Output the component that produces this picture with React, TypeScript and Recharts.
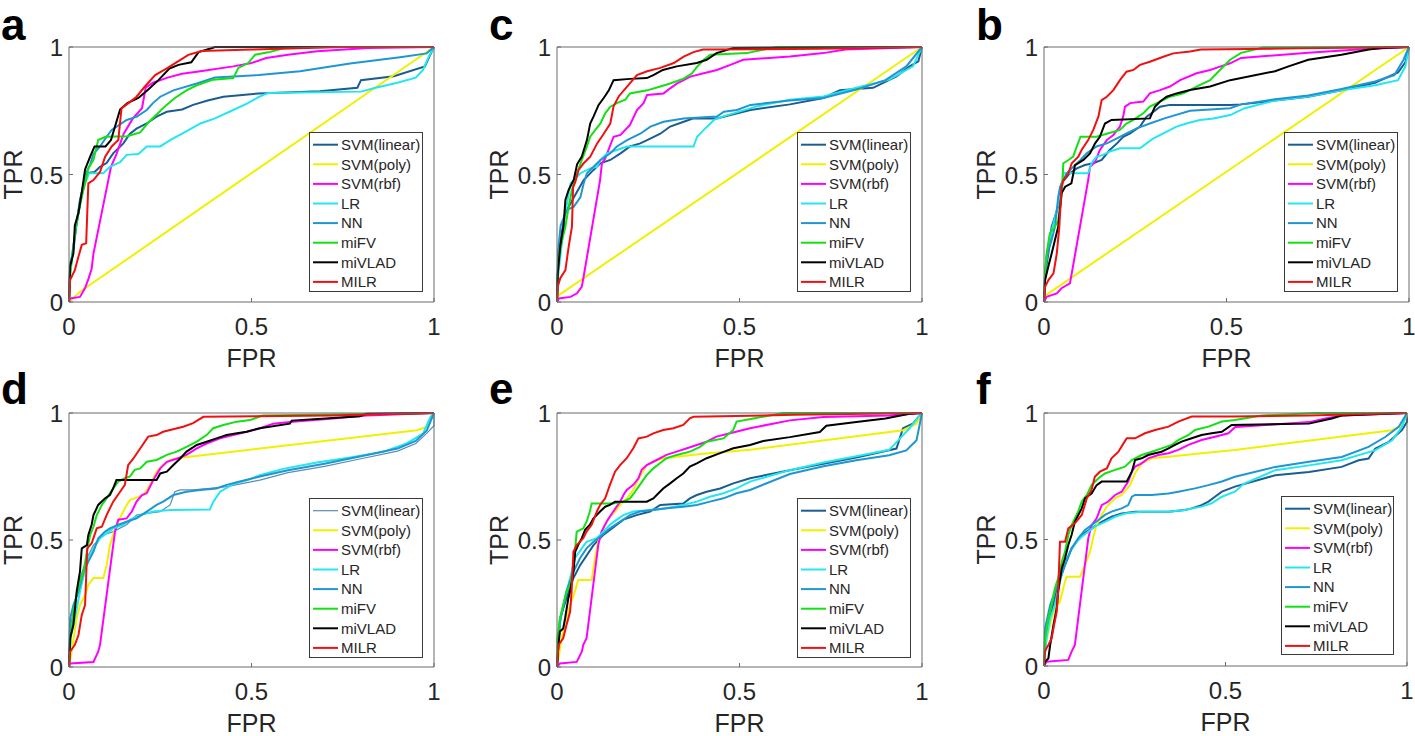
import React from "react";
import { LineChart, Line, XAxis, YAxis, Legend } from "recharts";

type Pt = [number, number];

const seriesNames = ["SVM(linear)", "SVM(poly)", "SVM(rbf)", "LR", "NN", "miFV", "miVLAD", "MILR"];
const seriesColors = ["#1b5d90", "#f0f000", "#ff00ff", "#22e6f0", "#1f96d2", "#14e014", "#000000", "#f01010"];
const axisTicks = [0, 0.5, 1];

// ---- panel a ----
const aLinear: Pt[] = [[0,0],[0.003,0.12],[0.015,0.25],[0.03,0.4],[0.048,0.505],[0.07,0.51],[0.085,0.53],[0.103,0.545],[0.121,0.583],[0.149,0.622],[0.167,0.66],[0.185,0.68],[0.213,0.7],[0.24,0.727],[0.268,0.746],[0.31,0.755],[0.34,0.773],[0.38,0.79],[0.423,0.805],[0.52,0.818],[0.687,0.826],[0.79,0.84],[0.8,0.87],[0.89,0.885],[0.975,0.924],[0.99,0.97],[1,1]];
const aPoly: Pt[] = [[0,0],[0.03,0.04],[1,1]];
const aRbf: Pt[] = [[0,0],[0.003,0.014],[0.03,0.02],[0.044,0.055],[0.053,0.09],[0.062,0.13],[0.067,0.19],[0.108,0.48],[0.115,0.53],[0.13,0.58],[0.15,0.66],[0.175,0.72],[0.2,0.76],[0.21,0.84],[0.23,0.86],[0.27,0.88],[0.31,0.895],[0.36,0.905],[0.45,0.924],[0.5,0.937],[0.54,0.957],[0.6,0.97],[0.68,0.983],[0.82,0.996],[1,1]];
const aLR: Pt[] = [[0,0],[0.003,0.1],[0.01,0.2],[0.02,0.3],[0.03,0.38],[0.04,0.45],[0.055,0.505],[0.094,0.505],[0.112,0.53],[0.14,0.548],[0.158,0.577],[0.19,0.58],[0.213,0.61],[0.25,0.61],[0.277,0.635],[0.31,0.66],[0.36,0.7],[0.4,0.72],[0.45,0.753],[0.49,0.78],[0.523,0.806],[0.545,0.82],[0.8,0.825],[0.84,0.84],[0.9,0.86],[0.95,0.88],[0.97,0.91],[0.985,0.96],[1,1]];
const aNN: Pt[] = [[0,0],[0.003,0.15],[0.012,0.2],[0.02,0.3],[0.035,0.43],[0.045,0.5],[0.058,0.54],[0.067,0.58],[0.085,0.61],[0.103,0.648],[0.117,0.675],[0.158,0.714],[0.186,0.727],[0.213,0.753],[0.23,0.78],[0.25,0.805],[0.286,0.83],[0.35,0.857],[0.4,0.88],[0.52,0.89],[0.633,0.905],[0.77,0.935],[0.907,0.96],[0.98,0.975],[1,1]];
const aFV: Pt[] = [[0,0],[0.003,0.112],[0.01,0.19],[0.019,0.295],[0.026,0.35],[0.035,0.413],[0.044,0.465],[0.053,0.524],[0.067,0.557],[0.08,0.635],[0.1,0.648],[0.16,0.65],[0.195,0.665],[0.215,0.7],[0.24,0.735],[0.265,0.77],[0.29,0.8],[0.322,0.83],[0.35,0.85],[0.395,0.872],[0.45,0.878],[0.464,0.918],[0.491,0.937],[0.51,0.97],[0.546,0.979],[0.6,1],[1,1]];
const aVLAD: Pt[] = [[0,0],[0.003,0.14],[0.012,0.19],[0.016,0.3],[0.026,0.35],[0.035,0.43],[0.044,0.52],[0.058,0.57],[0.07,0.61],[0.1,0.61],[0.115,0.635],[0.14,0.755],[0.16,0.78],[0.19,0.8],[0.215,0.83],[0.245,0.87],[0.275,0.915],[0.3,0.93],[0.335,0.94],[0.355,0.98],[0.39,0.995],[0.4,1],[1,1]];
const aMILR: Pt[] = [[0,0],[0.003,0.086],[0.016,0.125],[0.026,0.178],[0.035,0.224],[0.047,0.23],[0.053,0.465],[0.067,0.478],[0.085,0.51],[0.099,0.57],[0.117,0.61],[0.135,0.635],[0.144,0.76],[0.163,0.78],[0.185,0.805],[0.208,0.845],[0.236,0.89],[0.268,0.916],[0.29,0.936],[0.327,0.969],[0.363,0.984],[0.5,0.99],[0.75,1],[1,1]];

// ---- panel c ----
const cLinear: Pt[] = [[0,0],[0.003,0.15],[0.009,0.24],[0.023,0.35],[0.046,0.41],[0.073,0.478],[0.1,0.518],[0.119,0.544],[0.146,0.557],[0.174,0.583],[0.2,0.61],[0.228,0.622],[0.247,0.635],[0.283,0.66],[0.31,0.688],[0.347,0.707],[0.374,0.72],[0.438,0.72],[0.475,0.733],[0.53,0.753],[0.638,0.775],[0.73,0.8],[0.775,0.83],[0.866,0.84],[0.93,0.885],[0.966,0.924],[0.99,0.944],[1,1]];
const cPoly: Pt[] = [[0,0],[0.003,0.025],[1,1]];
const cRbf: Pt[] = [[0,0],[0.005,0.014],[0.037,0.02],[0.055,0.034],[0.068,0.06],[0.073,0.1],[0.118,0.478],[0.123,0.544],[0.132,0.563],[0.155,0.648],[0.174,0.655],[0.2,0.694],[0.219,0.753],[0.237,0.78],[0.247,0.812],[0.292,0.818],[0.31,0.838],[0.329,0.857],[0.347,0.87],[0.365,0.884],[0.402,0.897],[0.438,0.91],[0.475,0.93],[0.51,0.95],[0.638,0.963],[0.73,0.976],[0.79,0.99],[1,1]];
const cLR: Pt[] = [[0,0],[0.003,0.1],[0.009,0.178],[0.023,0.35],[0.037,0.465],[0.064,0.505],[0.091,0.524],[0.11,0.53],[0.119,0.557],[0.137,0.583],[0.164,0.596],[0.192,0.61],[0.374,0.61],[0.384,0.648],[0.402,0.675],[0.43,0.714],[0.456,0.728],[0.547,0.767],[0.638,0.793],[0.73,0.806],[0.82,0.84],[0.91,0.872],[0.975,0.924],[1,1]];
const cNN: Pt[] = [[0,0],[0.003,0.2],[0.01,0.3],[0.027,0.36],[0.046,0.374],[0.064,0.41],[0.073,0.465],[0.082,0.505],[0.119,0.557],[0.146,0.583],[0.164,0.61],[0.192,0.635],[0.228,0.66],[0.256,0.688],[0.292,0.707],[0.347,0.72],[0.438,0.727],[0.457,0.746],[0.493,0.753],[0.53,0.773],[0.638,0.79],[0.73,0.8],[0.82,0.833],[0.9,0.87],[0.957,0.924],[1,1]];
const cFV: Pt[] = [[0,0],[0.002,0.1],[0.005,0.178],[0.014,0.243],[0.023,0.295],[0.032,0.374],[0.041,0.44],[0.055,0.505],[0.068,0.557],[0.082,0.61],[0.091,0.648],[0.105,0.675],[0.119,0.7],[0.132,0.74],[0.146,0.766],[0.164,0.78],[0.187,0.793],[0.2,0.818],[0.247,0.83],[0.283,0.845],[0.31,0.857],[0.347,0.876],[0.37,0.897],[0.384,0.923],[0.402,0.95],[0.42,0.97],[0.52,0.976],[0.6,1],[1,1]];
const cVLAD: Pt[] = [[0,0],[0.002,0.11],[0.009,0.22],[0.018,0.3],[0.023,0.4],[0.032,0.44],[0.046,0.48],[0.055,0.54],[0.068,0.57],[0.082,0.635],[0.091,0.7],[0.1,0.727],[0.114,0.773],[0.128,0.8],[0.142,0.83],[0.155,0.87],[0.2,0.875],[0.246,0.878],[0.264,0.89],[0.29,0.91],[0.328,0.924],[0.383,0.937],[0.41,0.95],[0.437,0.976],[0.483,0.996],[1,1]];
const cMILR: Pt[] = [[0,0],[0.002,0.06],[0.009,0.093],[0.023,0.125],[0.032,0.217],[0.041,0.295],[0.044,0.45],[0.05,0.47],[0.059,0.518],[0.073,0.544],[0.091,0.57],[0.11,0.622],[0.128,0.66],[0.146,0.7],[0.155,0.767],[0.169,0.806],[0.192,0.845],[0.219,0.89],[0.247,0.905],[0.283,0.918],[0.32,0.937],[0.347,0.962],[0.374,0.98],[0.4,0.99],[0.72,0.993],[1,1]];

// ---- panel b ----
const bLinear: Pt[] = [[0,0],[0.003,0.11],[0.012,0.19],[0.021,0.295],[0.039,0.374],[0.048,0.465],[0.071,0.505],[0.09,0.524],[0.112,0.537],[0.135,0.544],[0.158,0.557],[0.18,0.596],[0.2,0.622],[0.217,0.648],[0.236,0.661],[0.263,0.688],[0.281,0.727],[0.3,0.746],[0.318,0.766],[0.345,0.773],[0.51,0.773],[0.54,0.775],[0.633,0.79],[0.724,0.805],[0.815,0.83],[0.907,0.86],[0.97,0.9],[0.99,0.94],[1,1]];
const bPoly: Pt[] = [[0,0],[0.003,0.025],[1,1]];
const bRbf: Pt[] = [[0,0],[0.007,0.02],[0.035,0.034],[0.048,0.054],[0.071,0.073],[0.076,0.112],[0.121,0.478],[0.126,0.53],[0.14,0.55],[0.153,0.596],[0.172,0.635],[0.19,0.655],[0.208,0.688],[0.217,0.727],[0.222,0.766],[0.236,0.78],[0.272,0.786],[0.29,0.818],[0.318,0.831],[0.345,0.845],[0.373,0.87],[0.418,0.897],[0.455,0.91],[0.482,0.923],[0.51,0.936],[0.54,0.957],[0.724,0.977],[0.86,0.99],[1,1]];
const bLR: Pt[] = [[0,0],[0.005,0.15],[0.016,0.25],[0.035,0.36],[0.05,0.45],[0.053,0.505],[0.121,0.505],[0.13,0.544],[0.144,0.57],[0.162,0.577],[0.18,0.59],[0.208,0.603],[0.263,0.603],[0.281,0.622],[0.3,0.642],[0.327,0.661],[0.363,0.688],[0.39,0.7],[0.427,0.714],[0.464,0.72],[0.51,0.733],[0.55,0.76],[0.633,0.79],[0.724,0.806],[0.815,0.83],[0.907,0.85],[0.97,0.87],[0.99,0.924],[1,1]];
const bNN: Pt[] = [[0,0],[0.003,0.1],[0.007,0.178],[0.021,0.243],[0.03,0.295],[0.039,0.413],[0.044,0.452],[0.062,0.505],[0.08,0.53],[0.1,0.557],[0.117,0.583],[0.144,0.61],[0.172,0.622],[0.2,0.642],[0.226,0.661],[0.254,0.681],[0.29,0.7],[0.33,0.72],[0.4,0.75],[0.51,0.76],[0.54,0.775],[0.633,0.795],[0.724,0.81],[0.815,0.835],[0.907,0.865],[0.96,0.89],[0.985,0.95],[1,1]];
const bFV: Pt[] = [[0,0],[0.003,0.112],[0.007,0.19],[0.016,0.27],[0.03,0.295],[0.039,0.32],[0.048,0.413],[0.053,0.544],[0.067,0.557],[0.08,0.57],[0.09,0.61],[0.1,0.648],[0.144,0.648],[0.172,0.66],[0.208,0.675],[0.226,0.7],[0.245,0.714],[0.272,0.74],[0.29,0.766],[0.318,0.786],[0.345,0.805],[0.382,0.818],[0.418,0.845],[0.455,0.87],[0.482,0.91],[0.51,0.95],[0.54,0.977],[0.6,0.998],[1,1]];
const bVLAD: Pt[] = [[0,0],[0.003,0.086],[0.012,0.14],[0.021,0.19],[0.03,0.243],[0.039,0.295],[0.048,0.426],[0.058,0.452],[0.075,0.465],[0.085,0.537],[0.108,0.557],[0.126,0.583],[0.14,0.622],[0.153,0.648],[0.167,0.7],[0.185,0.714],[0.29,0.72],[0.304,0.766],[0.318,0.786],[0.336,0.805],[0.363,0.818],[0.4,0.831],[0.455,0.845],[0.51,0.87],[0.633,0.905],[0.67,0.924],[0.724,0.95],[0.815,0.97],[0.89,0.99],[0.925,0.996],[1,1]];
const bMILR: Pt[] = [[0,0],[0.003,0.06],[0.012,0.086],[0.026,0.112],[0.035,0.19],[0.042,0.295],[0.048,0.452],[0.053,0.478],[0.067,0.505],[0.076,0.544],[0.094,0.57],[0.103,0.596],[0.121,0.635],[0.135,0.675],[0.149,0.727],[0.158,0.792],[0.172,0.805],[0.19,0.831],[0.208,0.87],[0.226,0.903],[0.245,0.91],[0.263,0.93],[0.29,0.942],[0.327,0.962],[0.354,0.975],[0.4,0.982],[0.43,0.99],[0.7,0.995],[1,1]];

// ---- panel d ----
const dLinear: Pt[] = [[0,0],[0.005,0.17],[0.03,0.35],[0.049,0.428],[0.067,0.48],[0.094,0.52],[0.121,0.533],[0.158,0.56],[0.185,0.598],[0.213,0.605],[0.25,0.612],[0.277,0.638],[0.29,0.69],[0.304,0.697],[0.34,0.697],[0.386,0.703],[0.432,0.71],[0.523,0.736],[0.6,0.765],[0.7,0.79],[0.8,0.82],[0.9,0.85],[0.95,0.88],[0.98,0.92],[1,0.95],[1,1]];
const dPoly: Pt[] = [[0,0],[0.007,0.06],[0.021,0.19],[0.03,0.244],[0.044,0.283],[0.053,0.323],[0.067,0.35],[0.094,0.35],[0.103,0.4],[0.112,0.48],[0.121,0.52],[0.13,0.56],[0.158,0.638],[0.167,0.657],[0.204,0.677],[0.222,0.717],[0.24,0.769],[0.258,0.795],[0.277,0.815],[0.295,0.822],[0.523,0.86],[0.953,0.932],[0.98,0.945],[1,1]];
const dRbf: Pt[] = [[0,0],[0.003,0.014],[0.067,0.02],[0.08,0.06],[0.085,0.087],[0.126,0.533],[0.135,0.58],[0.158,0.585],[0.172,0.612],[0.185,0.651],[0.2,0.677],[0.213,0.684],[0.231,0.736],[0.25,0.782],[0.268,0.808],[0.295,0.82],[0.322,0.835],[0.35,0.861],[0.377,0.88],[0.414,0.9],[0.45,0.913],[0.487,0.926],[0.523,0.94],[0.56,0.958],[0.605,0.965],[0.724,0.978],[0.815,0.99],[1,1]];
const dLR: Pt[] = [[0,0],[0.005,0.12],[0.016,0.19],[0.03,0.297],[0.049,0.415],[0.067,0.467],[0.085,0.507],[0.103,0.526],[0.121,0.546],[0.149,0.56],[0.167,0.58],[0.195,0.598],[0.231,0.612],[0.277,0.618],[0.386,0.62],[0.395,0.65],[0.414,0.69],[0.45,0.72],[0.487,0.735],[0.523,0.755],[0.587,0.78],[0.679,0.805],[0.77,0.825],[0.861,0.847],[0.925,0.88],[0.97,0.919],[0.99,0.984],[1,1]];
const dNN: Pt[] = [[0,0],[0.003,0.19],[0.012,0.244],[0.026,0.297],[0.04,0.375],[0.053,0.415],[0.067,0.454],[0.08,0.507],[0.099,0.533],[0.112,0.546],[0.135,0.56],[0.158,0.572],[0.185,0.585],[0.213,0.612],[0.24,0.638],[0.258,0.651],[0.286,0.677],[0.322,0.69],[0.359,0.697],[0.404,0.703],[0.432,0.717],[0.468,0.73],[0.523,0.75],[0.6,0.775],[0.7,0.8],[0.8,0.83],[0.9,0.86],[0.95,0.89],[0.98,0.93],[1,1]];
const dFV: Pt[] = [[0,0],[0.003,0.087],[0.012,0.218],[0.021,0.283],[0.03,0.336],[0.04,0.375],[0.049,0.454],[0.058,0.52],[0.067,0.552],[0.076,0.598],[0.09,0.638],[0.103,0.664],[0.121,0.703],[0.135,0.73],[0.153,0.743],[0.167,0.75],[0.18,0.776],[0.195,0.782],[0.213,0.808],[0.24,0.815],[0.268,0.835],[0.295,0.848],[0.322,0.867],[0.35,0.887],[0.377,0.913],[0.395,0.94],[0.423,0.953],[0.46,0.966],[0.496,0.972],[0.53,0.99],[1,1]];
const dVLAD: Pt[] = [[0,0],[0.003,0.113],[0.012,0.165],[0.021,0.297],[0.03,0.375],[0.035,0.467],[0.049,0.48],[0.053,0.52],[0.062,0.56],[0.067,0.598],[0.08,0.638],[0.099,0.664],[0.112,0.677],[0.121,0.703],[0.13,0.736],[0.24,0.736],[0.25,0.762],[0.268,0.769],[0.286,0.795],[0.304,0.82],[0.322,0.848],[0.35,0.874],[0.377,0.887],[0.404,0.9],[0.432,0.913],[0.46,0.92],[0.487,0.926],[0.523,0.94],[0.605,0.958],[0.61,0.97],[0.797,0.987],[0.815,0.997],[1,1]];
const dMILR: Pt[] = [[0,0],[0.003,0.06],[0.016,0.087],[0.026,0.126],[0.035,0.205],[0.044,0.244],[0.05,0.467],[0.062,0.487],[0.076,0.546],[0.09,0.552],[0.103,0.598],[0.121,0.651],[0.14,0.69],[0.153,0.717],[0.162,0.795],[0.176,0.82],[0.195,0.86],[0.217,0.907],[0.24,0.913],[0.258,0.926],[0.277,0.933],[0.313,0.946],[0.34,0.96],[0.368,0.985],[0.72,0.99],[1,1]];

// ---- panel e ----
const eLinear: Pt[] = [[0,0],[0.008,0.19],[0.026,0.27],[0.045,0.35],[0.063,0.4],[0.1,0.48],[0.127,0.52],[0.182,0.58],[0.218,0.598],[0.255,0.612],[0.283,0.638],[0.346,0.644],[0.364,0.664],[0.383,0.677],[0.41,0.69],[0.447,0.703],[0.483,0.723],[0.529,0.743],[0.638,0.775],[0.73,0.8],[0.82,0.825],[0.93,0.86],[0.948,0.94],[0.975,0.958],[1,1]];
const ePoly: Pt[] = [[0,0],[0.01,0.09],[0.022,0.178],[0.036,0.244],[0.049,0.297],[0.058,0.343],[0.095,0.343],[0.104,0.428],[0.113,0.493],[0.127,0.546],[0.14,0.585],[0.159,0.612],[0.173,0.638],[0.191,0.664],[0.209,0.697],[0.227,0.75],[0.246,0.795],[0.264,0.808],[0.291,0.822],[0.328,0.828],[0.4,0.84],[0.529,0.855],[0.948,0.932],[0.985,0.958],[1,1]];
const eRbf: Pt[] = [[0,0],[0.008,0.014],[0.054,0.02],[0.068,0.06],[0.072,0.087],[0.081,0.113],[0.113,0.48],[0.122,0.533],[0.136,0.572],[0.154,0.612],[0.173,0.651],[0.182,0.677],[0.191,0.697],[0.209,0.717],[0.223,0.743],[0.232,0.776],[0.246,0.795],[0.273,0.815],[0.3,0.835],[0.328,0.848],[0.356,0.861],[0.383,0.874],[0.41,0.887],[0.437,0.907],[0.474,0.92],[0.529,0.94],[0.638,0.971],[0.73,0.984],[0.91,0.99],[1,1]];
const eLR: Pt[] = [[0,0],[0.004,0.12],[0.013,0.218],[0.026,0.297],[0.036,0.35],[0.049,0.428],[0.068,0.467],[0.081,0.493],[0.109,0.507],[0.127,0.533],[0.145,0.56],[0.164,0.58],[0.182,0.598],[0.209,0.612],[0.255,0.618],[0.3,0.625],[0.346,0.638],[0.383,0.651],[0.419,0.67],[0.456,0.684],[0.492,0.703],[0.529,0.73],[0.638,0.775],[0.73,0.805],[0.82,0.83],[0.91,0.855],[0.94,0.9],[0.966,0.94],[0.99,0.984],[1,1]];
const eNN: Pt[] = [[0,0],[0.008,0.178],[0.026,0.297],[0.045,0.375],[0.063,0.428],[0.081,0.467],[0.1,0.493],[0.118,0.513],[0.145,0.546],[0.173,0.572],[0.2,0.598],[0.227,0.612],[0.264,0.618],[0.3,0.625],[0.346,0.631],[0.383,0.638],[0.419,0.651],[0.456,0.664],[0.492,0.684],[0.529,0.697],[0.638,0.76],[0.73,0.79],[0.82,0.814],[0.91,0.834],[0.957,0.853],[0.985,0.893],[1,1]];
const eFV: Pt[] = [[0,0],[0.001,0.113],[0.008,0.19],[0.017,0.244],[0.026,0.297],[0.036,0.323],[0.045,0.388],[0.054,0.533],[0.072,0.546],[0.081,0.572],[0.09,0.612],[0.095,0.644],[0.154,0.644],[0.182,0.651],[0.2,0.664],[0.214,0.69],[0.227,0.717],[0.246,0.756],[0.264,0.782],[0.282,0.802],[0.3,0.822],[0.328,0.835],[0.364,0.848],[0.392,0.867],[0.41,0.887],[0.456,0.9],[0.483,0.933],[0.492,0.966],[0.538,0.978],[0.62,1],[1,1]];
const eVLAD: Pt[] = [[0,0],[0.004,0.087],[0.008,0.14],[0.017,0.152],[0.022,0.19],[0.031,0.27],[0.036,0.297],[0.045,0.375],[0.05,0.454],[0.058,0.48],[0.068,0.507],[0.077,0.54],[0.09,0.56],[0.1,0.585],[0.118,0.612],[0.132,0.631],[0.145,0.638],[0.159,0.651],[0.246,0.651],[0.264,0.664],[0.278,0.684],[0.291,0.703],[0.31,0.723],[0.328,0.743],[0.346,0.762],[0.364,0.789],[0.383,0.802],[0.41,0.822],[0.447,0.842],[0.483,0.861],[0.529,0.874],[0.565,0.89],[0.638,0.905],[0.72,0.925],[0.738,0.95],[0.82,0.965],[0.9,0.978],[0.966,0.997],[1,1]];
const eMILR: Pt[] = [[0,0],[0.004,0.087],[0.017,0.113],[0.026,0.165],[0.036,0.218],[0.04,0.297],[0.045,0.454],[0.054,0.48],[0.072,0.507],[0.081,0.533],[0.095,0.56],[0.109,0.612],[0.118,0.638],[0.132,0.664],[0.145,0.717],[0.159,0.769],[0.173,0.795],[0.191,0.822],[0.209,0.861],[0.223,0.9],[0.246,0.907],[0.264,0.92],[0.291,0.933],[0.319,0.94],[0.346,0.953],[0.364,0.979],[0.374,0.985],[0.65,0.993],[1,1]];

// ---- panel f ----
const fLinear: Pt[] = [[0,0],[0.007,0.136],[0.021,0.215],[0.039,0.32],[0.058,0.4],[0.076,0.465],[0.104,0.518],[0.131,0.544],[0.159,0.57],[0.186,0.59],[0.214,0.603],[0.251,0.61],[0.343,0.61],[0.388,0.617],[0.407,0.623],[0.434,0.636],[0.453,0.65],[0.471,0.669],[0.49,0.689],[0.526,0.709],[0.637,0.754],[0.73,0.767],[0.82,0.787],[0.867,0.813],[0.894,0.82],[0.913,0.86],[0.95,0.886],[0.986,0.932],[1,0.965],[1,1]];
const fPoly: Pt[] = [[0,0],[0.004,0.08],[0.012,0.136],[0.021,0.188],[0.03,0.228],[0.044,0.254],[0.053,0.307],[0.062,0.353],[0.099,0.353],[0.113,0.4],[0.127,0.452],[0.136,0.511],[0.145,0.557],[0.159,0.597],[0.173,0.63],[0.196,0.663],[0.214,0.676],[0.237,0.715],[0.251,0.762],[0.269,0.801],[0.297,0.821],[0.343,0.827],[0.434,0.841],[0.526,0.854],[0.959,0.932],[0.986,0.951],[1,0.99],[1,1]];
const fRbf: Pt[] = [[0,0],[0.007,0.017],[0.067,0.024],[0.076,0.057],[0.085,0.083],[0.122,0.505],[0.131,0.557],[0.145,0.584],[0.159,0.636],[0.177,0.65],[0.196,0.676],[0.214,0.689],[0.232,0.729],[0.242,0.768],[0.251,0.788],[0.269,0.801],[0.287,0.821],[0.315,0.834],[0.343,0.841],[0.37,0.854],[0.398,0.874],[0.434,0.893],[0.471,0.906],[0.508,0.92],[0.527,0.945],[0.59,0.951],[0.73,0.964],[0.775,0.978],[0.82,0.99],[1,1]];
const fLR: Pt[] = [[0,0],[0.007,0.109],[0.017,0.188],[0.03,0.241],[0.044,0.333],[0.058,0.412],[0.072,0.452],[0.09,0.491],[0.104,0.511],[0.122,0.531],[0.14,0.551],[0.168,0.57],[0.196,0.59],[0.223,0.603],[0.269,0.61],[0.343,0.61],[0.388,0.617],[0.434,0.63],[0.462,0.643],[0.49,0.669],[0.526,0.689],[0.55,0.72],[0.637,0.774],[0.73,0.793],[0.82,0.813],[0.913,0.853],[0.959,0.892],[0.986,0.945],[1,1]];
const fNN: Pt[] = [[0,0],[0.003,0.15],[0.017,0.241],[0.03,0.294],[0.045,0.35],[0.058,0.4],[0.076,0.465],[0.094,0.505],[0.113,0.538],[0.131,0.557],[0.15,0.577],[0.168,0.597],[0.186,0.61],[0.214,0.623],[0.232,0.636],[0.242,0.669],[0.251,0.676],[0.297,0.676],[0.343,0.682],[0.37,0.689],[0.416,0.702],[0.453,0.715],[0.49,0.729],[0.526,0.748],[0.637,0.787],[0.73,0.807],[0.82,0.826],[0.894,0.866],[0.94,0.905],[0.977,0.945],[1,1]];
const fFV: Pt[] = [[0,0],[0.003,0.109],[0.012,0.188],[0.021,0.241],[0.03,0.307],[0.039,0.347],[0.049,0.412],[0.058,0.452],[0.067,0.518],[0.076,0.557],[0.094,0.61],[0.104,0.65],[0.118,0.676],[0.131,0.715],[0.15,0.742],[0.168,0.761],[0.196,0.775],[0.223,0.788],[0.242,0.814],[0.269,0.834],[0.297,0.847],[0.324,0.86],[0.352,0.874],[0.37,0.893],[0.398,0.913],[0.416,0.933],[0.453,0.946],[0.49,0.966],[0.526,0.972],[0.6,0.99],[0.75,1],[1,1]];
const fVLAD: Pt[] = [[0,0],[0.003,0.017],[0.012,0.03],[0.017,0.083],[0.026,0.162],[0.035,0.228],[0.039,0.294],[0.049,0.386],[0.058,0.426],[0.067,0.478],[0.076,0.518],[0.085,0.57],[0.104,0.623],[0.113,0.663],[0.131,0.682],[0.145,0.715],[0.159,0.729],[0.228,0.729],[0.242,0.768],[0.251,0.814],[0.269,0.821],[0.287,0.834],[0.306,0.841],[0.324,0.847],[0.343,0.86],[0.361,0.874],[0.379,0.887],[0.407,0.9],[0.434,0.913],[0.462,0.92],[0.49,0.926],[0.517,0.953],[0.73,0.958],[0.793,0.978],[0.82,0.99],[1,1]];
const fMILR: Pt[] = [[0,0],[0.003,0.06],[0.012,0.083],[0.021,0.109],[0.026,0.149],[0.035,0.215],[0.039,0.294],[0.044,0.491],[0.058,0.491],[0.067,0.544],[0.085,0.564],[0.104,0.597],[0.118,0.663],[0.131,0.696],[0.14,0.748],[0.154,0.768],[0.173,0.781],[0.186,0.821],[0.205,0.847],[0.219,0.88],[0.228,0.9],[0.251,0.9],[0.278,0.92],[0.306,0.933],[0.343,0.946],[0.37,0.966],[0.407,0.986],[0.517,0.986],[0.73,0.99],[1,1]];

const FONT = '"Liberation Sans", Arial, Helvetica, sans-serif';
const BOX = "#6b6b6b";
const TXT = "#262626";
// space around the plot box inside each chart (axes take 1px each)
const ML = 69;
const MT = 47;
const MR = 8;
const MB = 40;

interface PanelDef {
  letter: string;
  left: number; // plot box, page coords
  top: number;
  w: number;
  h: number;
  legendX: number;
  legendY: number;
  curves: Pt[][];
  thinLinear?: boolean;
}

const panels: PanelDef[] = [
  { letter: "a", left: 69, top: 47, w: 365, h: 255, legendX: 309, legendY: 132, curves: [aLinear, aPoly, aRbf, aLR, aNN, aFV, aVLAD, aMILR] },
  { letter: "c", left: 557, top: 47, w: 365, h: 255, legendX: 797, legendY: 132, curves: [cLinear, cPoly, cRbf, cLR, cNN, cFV, cVLAD, cMILR] },
  { letter: "b", left: 1044, top: 47, w: 365, h: 255, legendX: 1284, legendY: 132, curves: [bLinear, bPoly, bRbf, bLR, bNN, bFV, bVLAD, bMILR] },
  { letter: "d", left: 69, top: 413, w: 365, h: 254, legendX: 309, legendY: 498, curves: [dLinear, dPoly, dRbf, dLR, dNN, dFV, dVLAD, dMILR], thinLinear: true },
  { letter: "e", left: 557, top: 413, w: 365, h: 254, legendX: 797, legendY: 498, curves: [eLinear, ePoly, eRbf, eLR, eNN, eFV, eVLAD, eMILR] },
  { letter: "f", left: 1044, top: 413, w: 363, h: 253, legendX: 1281, legendY: 496, curves: [fLinear, fPoly, fRbf, fLR, fNN, fFV, fVLAD, fMILR] },
];

const toPts = (a: Pt[]) => a.map(([x, y]) => ({ x, y }));
const fmt = (v: number) => (v === 0.5 ? "0.5" : String(v));

// MATLAB style ticks: short marks pointing into the box
const BottomTick = (props: any) => {
  const { x, y, payload } = props;
  return (
    <g>
      <line x1={x} y1={y} x2={x} y2={y - 4} stroke={BOX} />
      <text x={x} y={y + 33} textAnchor="middle" fontSize={24} fill={TXT} fontFamily={FONT}>
        {fmt(payload.value)}
      </text>
    </g>
  );
};
const LeftTick = (props: any) => {
  const { x, y, payload } = props;
  return (
    <g>
      <line x1={x} y1={y} x2={x + 4} y2={y} stroke={BOX} />
      <text x={x - 6} y={y + 9} textAnchor="end" fontSize={24} fill={TXT} fontFamily={FONT}>
        {fmt(payload.value)}
      </text>
    </g>
  );
};
const TopTick = (props: any) => <line x1={props.x} y1={props.y} x2={props.x} y2={props.y + 4} stroke={BOX} />;
const RightTick = (props: any) => <line x1={props.x} y1={props.y} x2={props.x - 4} y2={props.y} stroke={BOX} />;

const LegendBox = ({ w, h, colors, widths }: { w: number; h: number; colors: string[]; widths: number[] }) => (
  <svg width={w} height={h} style={{ display: "block" }}>
    <rect x={0.5} y={0.5} width={w - 1} height={h - 1} fill="#fff" stroke="#3a3a3a" />
    {seriesNames.map((name, i) => {
      const cy = 12.7 + i * 19.6;
      return (
        <g key={name}>
          <line x1={4} x2={29} y1={cy} y2={cy} stroke={colors[i]} strokeWidth={widths[i]} />
          <text x={32} y={cy + 5.3} fontSize={15} fill={TXT} fontFamily={FONT}>
            {name}
          </text>
        </g>
      );
    })}
  </svg>
);

const Panel = ({ p }: { p: PanelDef }) => {
  const width = ML + p.w + MR;
  const height = MT + p.h + MB;
  const colors = seriesColors.map((c, i) => (i === 0 && p.thinLinear ? "#5b8cb5" : c));
  const widths = seriesNames.map((_, i) => (i === 0 && p.thinLinear ? 1.2 : 2));
  const lw = p.letter === "f" ? 113 : 114;
  const lh = p.letter === "f" ? 159 : 160;
  return (
    <div style={{ position: "absolute", left: p.left - ML, top: p.top - MT }}>
      <LineChart width={width} height={height} margin={{ top: MT - 1, right: MR - 1, bottom: MB - 1, left: ML - 1 }}>
        <XAxis xAxisId="b" type="number" dataKey="x" domain={[0, 1]} ticks={axisTicks} interval={0} height={1}
          tickSize={0} tickMargin={0} tickLine={false} axisLine={{ stroke: BOX }} tick={BottomTick} />
        <XAxis xAxisId="t" orientation="top" type="number" dataKey="x" domain={[0, 1]} ticks={axisTicks} interval={0} height={1}
          tickSize={0} tickMargin={0} tickLine={false} axisLine={{ stroke: BOX }} tick={TopTick} />
        <YAxis yAxisId="l" type="number" domain={[0, 1]} ticks={axisTicks} interval={0} width={1}
          tickSize={0} tickMargin={0} tickLine={false} axisLine={{ stroke: BOX }} tick={LeftTick} />
        <YAxis yAxisId="r" orientation="right" type="number" domain={[0, 1]} ticks={axisTicks} interval={0} width={1}
          tickSize={0} tickMargin={0} tickLine={false} axisLine={{ stroke: BOX }} tick={RightTick} />
        {p.curves.map((c, i) => (
          <Line key={seriesNames[i]} xAxisId="b" yAxisId="l" name={seriesNames[i]} data={toPts(c)} dataKey="y"
            type="linear" stroke={colors[i]} strokeWidth={widths[i]} dot={false} activeDot={false}
            isAnimationActive={false} />
        ))}
        <Legend layout="vertical" align="center" verticalAlign="middle"
          wrapperStyle={{ left: p.legendX - (p.left - ML), top: p.legendY - (p.top - MT), width: lw, height: lh }}
          content={() => <LegendBox w={lw} h={lh} colors={colors} widths={widths} />} />
      </LineChart>
    </div>
  );
}

export default function App() {
  return (
    <div style={{ position: "absolute", left: 0, top: 0, width: 1415, height: 736, overflow: "hidden", background: "#fff", fontFamily: FONT }}>
      {panels.map((p) => (
        <Panel key={p.letter} p={p} />
      ))}
      <svg width={1415} height={736} style={{ position: "absolute", left: 0, top: 0, pointerEvents: "none" }}>
        {panels.map((p) => (
          <g key={p.letter} fontFamily={FONT} fill={TXT}>
            <text x={p.left - 68} y={Math.max(p.top - 9, 40)} fontSize={44} fontWeight="bold" fill="#000">
              {p.letter}
            </text>
            <text transform={`translate(${Math.max(p.left - 49, 22)}, ${p.top + p.h / 2}) rotate(-90)`} textAnchor="middle" fontSize={25}>
              TPR
            </text>
            <text x={p.left + p.w / 2} y={p.top + p.h + 65} textAnchor="middle" fontSize={25}>
              FPR
            </text>
          </g>
        ))}
      </svg>
    </div>
  );
}
